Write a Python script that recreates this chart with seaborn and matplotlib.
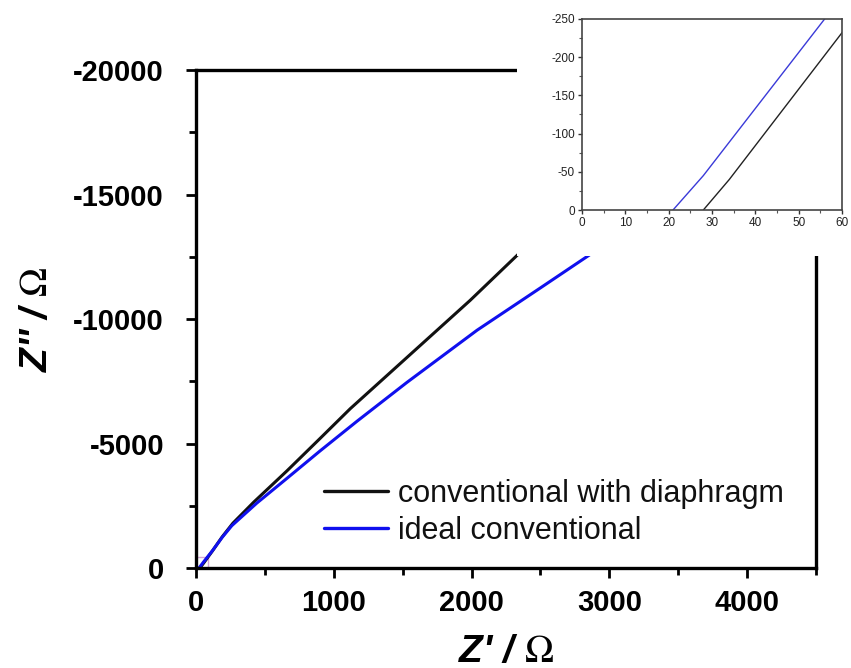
import matplotlib
matplotlib.use("Agg")
import matplotlib.pyplot as plt
from matplotlib.patches import Rectangle
from matplotlib.ticker import MultipleLocator
import seaborn as sns
import pandas as pd

# ---- data ----
black_x = [28, 34, 60, 120, 190, 268, 420, 660, 900, 1120, 1530, 1990, 2333, 2550]
black_y = [0, -40, -232, -690, -1250, -1800, -2650, -3900, -5200, -6400, -8450, -10750, -12570, -13650]
blue_x = [21, 28, 56, 120, 190, 260, 440, 660, 900, 1170, 1530, 2040, 2500, 2855, 3050]
blue_y = [0, -45, -250, -700, -1230, -1700, -2600, -3600, -4700, -5900, -7450, -9550, -11250, -12570, -13300]
series_names = ["conventional with diaphragm", "ideal conventional"]
x_ticks = [0, 1000, 2000, 3000, 4000]
y_ticks = [0, -5000, -10000, -15000, -20000]
inset_x_ticks = [0, 10, 20, 30, 40, 50, 60]
inset_y_ticks = [0, -50, -100, -150, -200, -250]

df = pd.concat([
    pd.DataFrame({"x": black_x, "y": black_y, "s": series_names[0]}),
    pd.DataFrame({"x": blue_x, "y": blue_y, "s": series_names[1]}),
], ignore_index=True)
palette = {series_names[0]: "#111111", series_names[1]: "#1010ee"}

sns.set_style("ticks")
plt.rcParams["font.family"] = ["Liberation Sans", "DejaVu Sans"]
plt.rcParams["axes.unicode_minus"] = False
plt.rcParams["mathtext.fontset"] = "stix"
plt.rcParams["text.color"] = "black"
plt.rcParams["axes.labelcolor"] = "black"
plt.rcParams["xtick.color"] = "black"
plt.rcParams["ytick.color"] = "black"

fig = plt.figure(figsize=(8.51, 6.68), dpi=100)
ax = fig.add_axes([0.2303, 0.1497, 0.7286, 0.7455])

sns.lineplot(data=df, x="x", y="y", hue="s", palette=palette, sort=False,
             estimator=None, linewidth=2.2, ax=ax)

ax.add_patch(Rectangle((0, 0), 90, -450, fill=False, edgecolor="#d4a6d8", lw=1.0, zorder=1))

ax.set_xlim(0, 4500)
ax.set_ylim(0, -20000)
ax.set_xticks(x_ticks)
ax.set_yticks(y_ticks)
ax.xaxis.set_minor_locator(MultipleLocator(500))
ax.yaxis.set_minor_locator(MultipleLocator(2500))
ax.set_xticklabels([str(v) for v in x_ticks])
ax.set_yticklabels([str(v) for v in y_ticks])
ax.tick_params(axis="both", which="major", direction="out", length=7, width=2,
               labelsize=21, color="black", labelcolor="black")
ax.tick_params(axis="x", which="major", pad=8)
ax.tick_params(axis="y", which="major", pad=16)
ax.tick_params(axis="both", which="minor", direction="out", length=5, width=2, color="black")
for lab in ax.get_xticklabels() + ax.get_yticklabels():
    lab.set_fontweight("bold")
for sp in ax.spines.values():
    sp.set_visible(True)
    sp.set_linewidth(2.4)
    sp.set_color("black")

ax.set_xlabel("Z' / $\\Omega$", fontsize=28, fontweight="bold", fontstyle="italic", labelpad=12)
ax.set_ylabel("Z'' / $\\Omega$", fontsize=28, fontweight="bold", fontstyle="italic", labelpad=13)

leg = ax.legend(loc="lower left", bbox_to_anchor=(0.207, 0.045), frameon=False,
                fontsize=22, handlelength=2.1, handletextpad=0.3, labelspacing=0.22,
                borderpad=0, borderaxespad=0)
for line in leg.get_lines():
    line.set_linewidth(2.4)
for t in leg.get_texts():
    t.set_color("#111111")

# white panel behind inset
fig.add_artist(Rectangle((0.6075, 0.6168), 0.3925, 0.3832, transform=fig.transFigure,
                         facecolor="white", edgecolor="none", zorder=1))

axin = fig.add_axes([0.6839, 0.6856, 0.3055, 0.2860])
axin.set_zorder(2)
sns.lineplot(data=df, x="x", y="y", hue="s", palette={series_names[0]: "#222222", series_names[1]: "#3a3ad8"},
             sort=False, estimator=None, linewidth=1.0, ax=axin, legend=False)
axin.set_xlim(0, 60)
axin.set_ylim(0, -250)
axin.set_xticks(inset_x_ticks)
axin.set_yticks(inset_y_ticks)
axin.xaxis.set_minor_locator(MultipleLocator(5))
axin.yaxis.set_minor_locator(MultipleLocator(25))
axin.set_xticklabels([str(v) for v in inset_x_ticks])
axin.set_yticklabels([str(v) for v in inset_y_ticks])
axin.tick_params(axis="both", which="major", direction="out", length=3, width=1,
                 labelsize=8.5, pad=2, color="#333333", labelcolor="#222222")
axin.tick_params(axis="both", which="minor", direction="out", length=2, width=0.8, color="#555555")
for sp in axin.spines.values():
    sp.set_visible(True)
    sp.set_linewidth(1.2)
    sp.set_color("#444444")
axin.set_xlabel("")
axin.set_ylabel("")

fig.savefig("out.png", dpi=100)
